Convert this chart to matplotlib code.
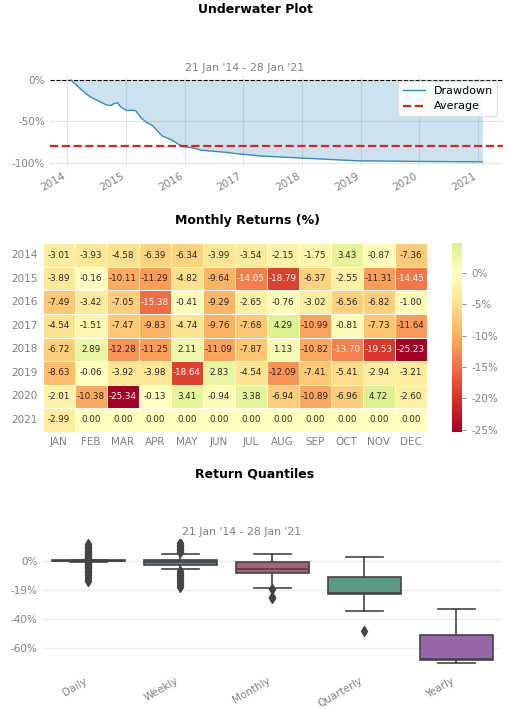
import matplotlib
matplotlib.use('Agg')
import matplotlib.pyplot as plt
import matplotlib.dates as mdates
import matplotlib.ticker as mticker
import numpy as np
import pandas as pd
import seaborn as sns

# Underwater plot (drawdown, %)
dd_dates = ['2014-01-21', '2014-02-25', '2014-04-05', '2014-05-19', '2014-07-09',
            '2014-08-29', '2014-09-27', '2014-10-19', '2014-11-10', '2014-11-28',
            '2015-01-04', '2015-02-09', '2015-03-03', '2015-04-01', '2015-05-05',
            '2015-06-14', '2015-07-13', '2015-08-15', '2015-09-13', '2015-10-16',
            '2015-11-25', '2015-12-24', '2016-02-17', '2016-04-16', '2016-06-17',
            '2016-09-09', '2016-12-01', '2017-04-23', '2017-11-14', '2018-06-10',
            '2018-12-14', '2019-07-27', '2020-02-17', '2021-01-28']
dd_values = [0.0, -6.0, -13.0, -20.0, -25.0,
             -30.0, -31.0, -28.5, -27.6, -32.5,
             -37.0, -36.6, -37.4, -45.0, -51.0,
             -55.0, -61.0, -68.0, -70.0, -73.0,
             -78.0, -80.5, -82.0, -85.0, -86.0,
             -87.4, -89.4, -92.0, -94.0, -96.0,
             -97.8, -98.2, -98.6, -99.0]
dd_average = -80.0
date_label = "21 Jan '14 - 28 Jan '21"

# Monthly returns (%)
years = ['2014', '2015', '2016', '2017', '2018', '2019', '2020', '2021']
months = ['JAN', 'FEB', 'MAR', 'APR', 'MAY', 'JUN',
          'JUL', 'AUG', 'SEP', 'OCT', 'NOV', 'DEC']
monthly_returns = np.array([
    [-3.01, -3.93, -4.58, -6.39, -6.34, -3.99, -3.54, -2.15, -1.75, 3.43, -0.87, -7.36],
    [-3.89, -0.16, -10.11, -11.29, -4.82, -9.64, -14.05, -18.79, -6.37, -2.55, -11.31, -14.45],
    [-7.49, -3.42, -7.05, -15.38, -0.41, -9.29, -2.65, -0.76, -3.02, -6.56, -6.82, -1.00],
    [-4.54, -1.51, -7.47, -9.83, -4.74, -9.76, -7.68, 4.29, -10.99, -0.81, -7.73, -11.64],
    [-6.72, 2.89, -12.28, -11.25, 2.11, -11.09, -7.87, 1.13, -10.82, -13.70, -19.53, -25.23],
    [-8.63, -0.06, -3.92, -3.98, -18.64, 2.83, -4.54, -12.09, -7.41, -5.41, -2.94, -3.21],
    [-2.01, -10.38, -25.34, -0.13, 3.41, -0.94, 3.38, -6.94, -10.89, -6.96, 4.72, -2.60],
    [-2.99, 0.00, 0.00, 0.00, 0.00, 0.00, 0.00, 0.00, 0.00, 0.00, 0.00, 0.00],
])

# Return quantiles (%), box stats
periods = ['Daily', 'Weekly', 'Monthly', 'Quarterly', 'Yearly']
q_whislo = [-0.7, -5.9, -18.79, -34.5, -70.6]
q_q1 = [-0.3, -2.8, -8.5, -23.2, -68.5]
q_med = [0.0, -1.0, -5.7, -22.5, -68.0]
q_q3 = [0.3, 0.5, -0.7, -10.8, -51.0]
q_whishi = [0.8, 4.6, 4.72, 2.8, -33.5]
q_fliers = [
    [11.8, 10.6, 9.5, 8.6, 7.7, 6.9, 6.1, 5.4, 4.7, 4.0, 3.4, 2.8, 2.3, 1.8, 1.3,
     -1.4, -2.0, -2.6, -3.3, -4.1, -4.9, -5.8, -6.7, -7.6, -8.6, -9.7, -10.9, -12.2, -13.9],
    [12.3, 11.2, 10.1, 9.2, 8.1, 7.2, 6.3,
     -7.0, -8.2, -9.5, -10.9, -12.4, -13.8, -15.3, -16.6, -17.8],
    [-19.53, -25.23, -25.34],
    [-48.3],
    [],
]
period_colors = ['#FEDD78', '#348DC1', '#BA516B', '#4FA487', '#9B59B6']
q_ticks = [0, -20, -40, -60]
q_ticklabels = ['0%', '-19%', '-40%', '-60%']

label_gray = '#808080'
plt.rcParams['font.family'] = 'DejaVu Sans'

fig = plt.figure(figsize=(5.12, 7.09), dpi=100)

# ---------- Underwater Plot ----------
ax1 = fig.add_axes([0.0977, 0.766, 0.8848, 0.127])
dates = pd.to_datetime(dd_dates)
ax1.plot(dates, dd_values, color='#348dc1', lw=1, label='Drawdown', zorder=3)
ax1.fill_between(dates, 0, dd_values, color='#348dc1', alpha=0.25, lw=0)
ax1.axhline(0, color='#000000', ls='--', lw=0.8, zorder=2)
ax1.axhline(dd_average, color='#dd2222', ls='--', lw=1.6, label='Average', zorder=4)
ax1.set_yticks([0, -50, -100])
ax1.yaxis.set_major_formatter(mticker.FuncFormatter(lambda v, p: f'{v:.0f}%'))
ax1.xaxis.set_major_locator(mdates.YearLocator())
ax1.xaxis.set_major_formatter(mdates.DateFormatter('%Y'))
ax1.grid(True, color='#e3e3e3', lw=0.8)
ax1.set_axisbelow(True)
for s in ax1.spines.values():
    s.set_visible(False)
ax1.tick_params(length=0, labelsize=7.5, labelcolor=label_gray)
plt.setp(ax1.get_xticklabels(), rotation=30, ha='right')
ax1.legend(loc='upper right', fontsize=8, frameon=True, framealpha=0.9,
           edgecolor='#dddddd', fancybox=True)
fig.text(0.498, 0.986, 'Underwater Plot', ha='center', va='center',
         fontsize=9, fontweight='bold')
fig.text(0.478, 0.904, date_label, ha='center', va='center',
         fontsize=7.8, color=label_gray)

# ---------- Monthly Returns heatmap ----------
ax2 = fig.add_axes([0.0834, 0.3911, 0.75, 0.2657])
cax = fig.add_axes([0.8834, 0.3911, 0.019, 0.2657])
sns.heatmap(monthly_returns, ax=ax2, cbar_ax=cax, annot=True, fmt='.2f',
            center=0, cmap='RdYlGn', linewidths=0.5, linecolor='white',
            annot_kws={'size': 6.3}, xticklabels=months, yticklabels=years,
            cbar_kws={'format': mticker.FuncFormatter(lambda v, p: f'{v:.0f}%')})
ax2.tick_params(length=0, labelsize=7.5, labelcolor=label_gray)
plt.setp(ax2.get_yticklabels(), rotation=0)
cbar = ax2.collections[0].colorbar
cbar.outline.set_visible(False)
cbar.locator = mticker.MultipleLocator(5)
cbar.update_ticks()
cax.tick_params(labelsize=7.5, labelcolor=label_gray, color=label_gray, length=3, width=0.6)
fig.text(0.484, 0.6897, 'Monthly Returns (%)', ha='center', va='center',
         fontsize=9, fontweight='bold')

# ---------- Return Quantiles ----------
ax3 = fig.add_axes([0.083, 0.0536, 0.898, 0.186])
stats = []
for i in range(len(periods)):
    stats.append(dict(label=periods[i], med=q_med[i], q1=q_q1[i], q3=q_q3[i],
                      whislo=q_whislo[i], whishi=q_whishi[i], fliers=q_fliers[i]))
edge = '#444444'
bp = ax3.bxp(stats, positions=range(len(periods)), widths=0.8, patch_artist=True,
             capwidths=0.4,
             boxprops=dict(edgecolor=edge, linewidth=1.2),
             medianprops=dict(color=edge, linewidth=1.2),
             whiskerprops=dict(color=edge, linewidth=1.2),
             capprops=dict(color=edge, linewidth=1.2),
             flierprops=dict(marker='d', markerfacecolor=edge, markeredgecolor=edge,
                             markersize=5))
for patch, c in zip(bp['boxes'], period_colors):
    patch.set_facecolor(sns.desaturate(c, 0.75))
ax3.set_xlim(-0.5, 4.5)
ax3.set_ylim(-76, 15)
ax3.set_yticks(q_ticks)
ax3.set_yticklabels(q_ticklabels)
ax3.grid(axis='y', color='#eeeeee', lw=1)
ax3.set_axisbelow(True)
for s in ax3.spines.values():
    s.set_visible(False)
ax3.tick_params(length=0, labelsize=7.5, labelcolor=label_gray)
plt.setp(ax3.get_xticklabels(), rotation=30, ha='right')
fig.text(0.497, 0.3315, 'Return Quantiles', ha='center', va='center',
         fontsize=9, fontweight='bold')
fig.text(0.471, 0.250, date_label, ha='center', va='center',
         fontsize=7.8, color=label_gray)

fig.savefig('out.png', dpi=100)
